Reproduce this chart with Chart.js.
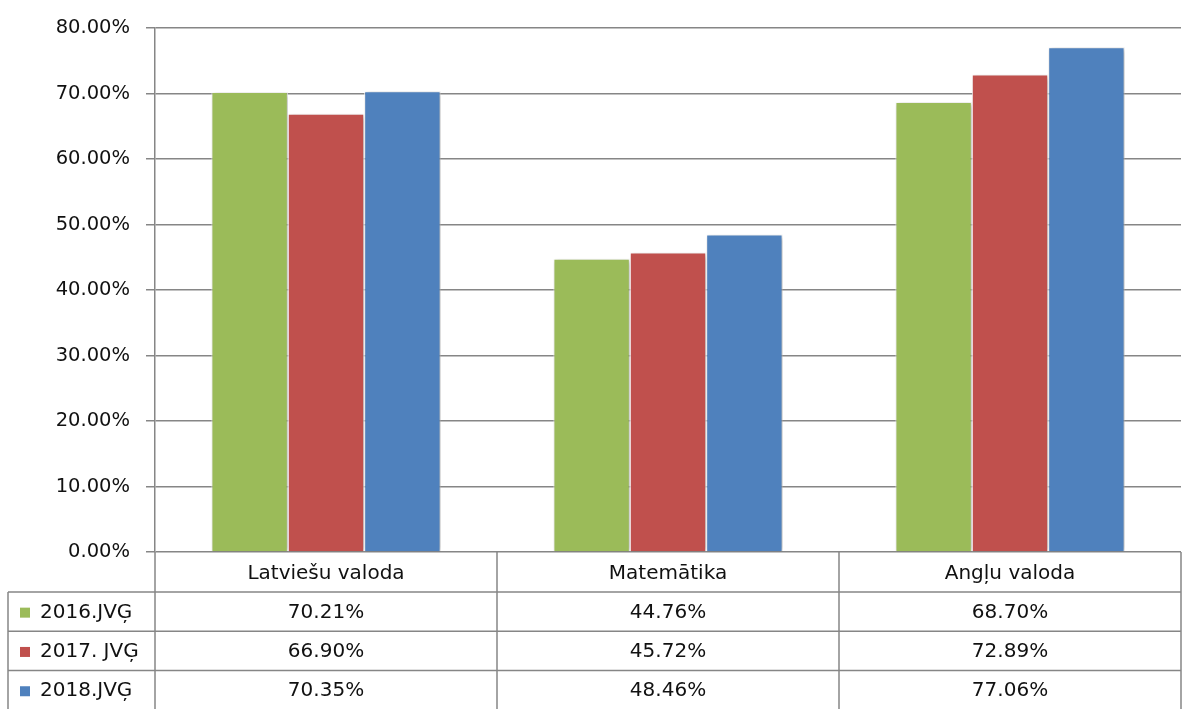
<!DOCTYPE html>
<html>
<head>
<meta charset="utf-8">
<script src="https://cdn.jsdelivr.net/npm/chart.js@4"></script>
<style>
  html, body { margin: 0; padding: 0; background: #fff; }
  #wrap { width: 1185px; height: 709px; position: relative; }
</style>
</head>
<body>
<div id="wrap"><canvas id="chart" width="1185" height="709"></canvas></div>
<script>
const categories = ["Latviešu valoda", "Matemātika", "Angļu valoda"];
const seriesNames = ["2016.JVĢ", "2017. JVĢ", "2018.JVĢ"];
const values2016 = [70.21, 44.76, 68.70];
const values2017 = [66.90, 45.72, 72.89];
const values2018 = [70.35, 48.46, 77.06];
const colors = ["#9BBB59", "#C0504D", "#4F81BD"];

const FONT = "'DejaVu Sans', sans-serif";
const GRID = "#868686";
const TEXT = "#111111";

// data table under the plot, drawn from the same arrays
const dataTable = {
  id: "dataTable",
  afterDraw(chart) {
    const ctx = chart.ctx;
    const area = chart.chartArea;
    const xs = chart.scales.x;
    const left = 8, headerH = 40, rowH = 39.3;
    const top = area.bottom;
    const colW = (area.right - area.left) / categories.length;
    const rows = chart.data.datasets;

    ctx.save();
    ctx.strokeStyle = GRID;
    ctx.lineWidth = 1.5;
    ctx.beginPath();
    for (let i = 0; i <= categories.length; i++) {
      const x = area.left + i * colW;
      ctx.moveTo(x, top);
      ctx.lineTo(x, 709);
    }
    ctx.moveTo(left, top + headerH);
    ctx.lineTo(area.right, top + headerH);
    for (let r = 1; r < rows.length; r++) {
      const y = top + headerH + r * rowH;
      ctx.moveTo(left, y);
      ctx.lineTo(area.right, y);
    }
    ctx.moveTo(left, top + headerH);
    ctx.lineTo(left, 709);
    ctx.stroke();

    ctx.fillStyle = TEXT;
    ctx.font = "20px " + FONT;
    ctx.textAlign = "center";
    ctx.textBaseline = "middle";
    categories.forEach((c, i) => {
      ctx.fillText(c, xs.getPixelForValue(i), top + headerH / 2 + 2);
    });
    rows.forEach((ds, r) => {
      const y = top + headerH + r * rowH + rowH / 2 + 1;
      ctx.fillStyle = ds.backgroundColor;
      ctx.fillRect(20, y - 5, 10, 10);
      ctx.fillStyle = TEXT;
      ctx.textAlign = "left";
      ctx.fillText(ds.label, 40, y);
      ctx.textAlign = "center";
      ds.data.forEach((v, i) => {
        ctx.fillText(v.toFixed(2) + "%", xs.getPixelForValue(i), y);
      });
    });
    ctx.restore();
  }
};

// soft shadow on the bars
const barShadow = {
  id: "barShadow",
  beforeDatasetsDraw(chart) {
    const ctx = chart.ctx;
    ctx.save();
    ctx.shadowColor = "rgba(0,0,0,0.3)";
    ctx.shadowBlur = 5;
    ctx.shadowOffsetX = 2;
    ctx.shadowOffsetY = 1;
  },
  afterDatasetsDraw(chart) {
    chart.ctx.restore();
  }
};

new Chart(document.getElementById("chart"), {
  type: "bar",
  data: {
    labels: categories,
    datasets: [
      { label: seriesNames[0], data: values2016, backgroundColor: colors[0] },
      { label: seriesNames[1], data: values2017, backgroundColor: colors[1] },
      { label: seriesNames[2], data: values2018, backgroundColor: colors[2] }
    ]
  },
  plugins: [barShadow, dataTable],
  options: {
    responsive: false,
    animation: false,
    layout: { padding: { left: 0, top: 28, right: 4, bottom: 157 } },
    datasets: {
      bar: {
        categoryPercentage: 0.67,
        barPercentage: 1,
        borderColor: "#ffffff",
        borderWidth: 1
      }
    },
    plugins: {
      legend: { display: false },
      tooltip: { enabled: false }
    },
    scales: {
      x: {
        display: false
      },
      y: {
        min: 0,
        max: 80,
        afterFit(s) { s.width = 155; },
        ticks: {
          stepSize: 10,
          padding: 16,
          color: TEXT,
          font: { family: FONT, size: 19.5 },
          callback: v => v.toFixed(2) + "%"
        },
        grid: {
          color: GRID,
          lineWidth: 1.5,
          tickLength: 9,
          drawTicks: true
        },
        border: { color: GRID, width: 1.5 }
      }
    }
  }
});
</script>
</body>
</html>
